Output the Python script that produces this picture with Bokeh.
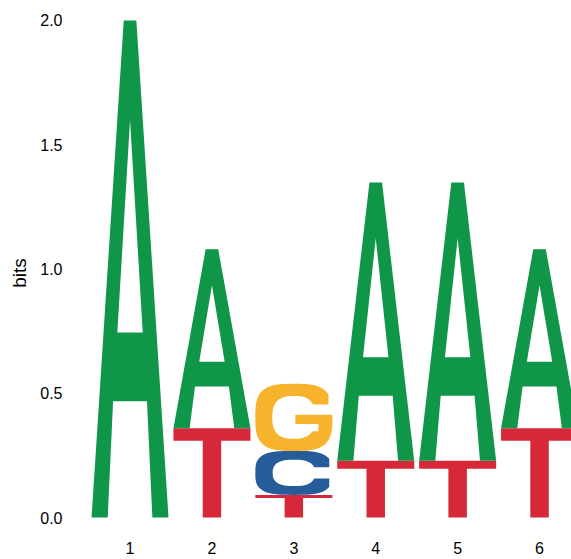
import numpy as np
from bokeh.plotting import figure
from bokeh.models import ColumnDataSource, FixedTicker, NumeralTickFormatter
from bokeh.embed import file_html
from bokeh.resources import INLINE

# ---------------- data (bits per letter at each position) ----------------
positions = [1, 2, 3, 4, 5, 6]
bits_A = [2.0, 0.72, 0.0, 1.12, 1.12, 0.72]
bits_C = [0.0, 0.0, 0.177, 0.0, 0.0, 0.0]
bits_G = [0.0, 0.0, 0.27, 0.0, 0.0, 0.0]
bits_T = [0.0, 0.359, 0.091, 0.228, 0.228, 0.359]
x_tick_labels = ["1", "2", "3", "4", "5", "6"]
y_ticks = [0.0, 0.5, 1.0, 1.5, 2.0]

letter_colors = {"A": "#109648", "C": "#255C99", "G": "#F7B32B", "T": "#D62839"}

# ---------------- letter outlines in a unit box ----------------
def se(t, cx, cy, rx, ry, n):
    c, s = np.cos(t), np.sin(t)
    return (cx + rx * np.sign(c) * np.abs(c) ** (2.0 / n),
            cy + ry * np.sign(s) * np.abs(s) ** (2.0 / n))

def t_for_x(x, cx, rx, n):
    return np.arccos(((x - cx) / rx) ** (n / 2.0))

def t_for_y(y, cy, ry, n):
    return np.arcsin(((y - cy) / ry) ** (n / 2.0))

def shape_A():
    outer = [(0, 0), (0.418, 1), (0.582, 1), (1, 0), (0.79, 0), (0.72, 0.234),
             (0.28, 0.234), (0.21, 0)]
    hole = [(0.335, 0.372), (0.665, 0.372), (0.5, 0.80)]
    return [outer, hole]

def shape_T():
    return [[(0, 1), (1, 1), (1, 0.86), (0.62, 0.86), (0.62, 0), (0.38, 0),
             (0.38, 0.86), (0, 0.86)]]

def shape_C():
    no, ni = 3.2, 2.6
    rxi, ryi = 0.275, 0.30
    tc = t_for_x(0.96, 0.5, 0.5, no)
    to = np.linspace(tc, 2 * np.pi - tc, 90)
    ox, oy = se(to, 0.5, 0.5, 0.5, 0.5, no)
    ti = t_for_y(0.63, 0.5, ryi, ni)
    tin = np.linspace(2 * np.pi - ti, ti, 90)
    ix, iy = se(tin, 0.5, 0.5, rxi, ryi, ni)
    pts = list(zip(ox, oy)) + [(0.96, 0.37)] + list(zip(ix, iy)) + [(0.96, 0.63)]
    return [pts]

def shape_G():
    no, ni = 3.2, 2.6
    rxi, ryi = 0.28, 0.32
    tc = t_for_x(0.95, 0.5, 0.5, no)
    to = np.linspace(tc, 2 * np.pi, 90)
    ox, oy = se(to, 0.5, 0.5, 0.5, 0.5, no)
    ti = t_for_y(0.69, 0.5, ryi, ni)
    tin = np.linspace(2 * np.pi - 0.6, ti, 90)
    ix, iy = se(tin, 0.5, 0.5, rxi, ryi, ni)
    bar = [(1.0, 0.54), (0.52, 0.54), (0.52, 0.40), (0.82, 0.40), (0.82, float(iy[0]))]
    pts = list(zip(ox, oy)) + bar + list(zip(ix, iy)) + [(0.95, 0.69)]
    return [pts]

shapes = {"A": shape_A(), "C": shape_C(), "G": shape_G(), "T": shape_T()}
series = {"A": bits_A, "C": bits_C, "G": bits_G, "T": bits_T}

letter_width = 0.94

xs, ys, colors = [], [], []
for i, pos in enumerate(positions):
    stack = [(series[k][i], k) for k in "ACGT" if series[k][i] > 0]
    stack.sort()
    base = 0.0
    for h, k in stack:
        rings_x, rings_y = [], []
        for ring in shapes[k]:
            u = np.array([p[0] for p in ring], dtype=float)
            v = np.array([p[1] for p in ring], dtype=float)
            rings_x.append(list(pos - letter_width / 2 + u * letter_width))
            rings_y.append(list(base + v * h))
        xs.append([rings_x])
        ys.append([rings_y])
        colors.append(letter_colors[k])
        base += h

src = ColumnDataSource(dict(xs=xs, ys=ys, color=colors))

p = figure(width=565, height=559, output_backend="svg", toolbar_location=None,
           x_range=(0.212, 6.3902), y_range=(-0.0724, 2.0402),
           min_border_left=0, min_border_right=0, min_border_top=10,
           min_border_bottom=24, margin=(0, 0, 0, 6))
p.multi_polygons(xs="xs", ys="ys", fill_color="color", line_color=None, source=src)

p.outline_line_color = None
p.xgrid.visible = False
p.ygrid.visible = False
p.background_fill_color = "white"

for ax in (p.xaxis[0], p.yaxis[0]):
    ax.axis_line_color = None
    ax.major_tick_line_color = None
    ax.minor_tick_line_color = None
    ax.major_tick_out = 0
    ax.major_tick_in = 0
    ax.major_label_text_font = "Liberation Sans"
    ax.major_label_text_font_size = "16px"
    ax.major_label_text_color = "black"
    ax.major_label_standoff = 3

p.xaxis.major_label_standoff = 6
p.xaxis.ticker = FixedTicker(ticks=positions)
p.xaxis.major_label_overrides = {pos: lab for pos, lab in zip(positions, x_tick_labels)}
p.yaxis.ticker = FixedTicker(ticks=y_ticks)
p.yaxis.formatter = NumeralTickFormatter(format="0.0")
p.yaxis.axis_label = "bits"
p.yaxis.axis_label_text_font = "Liberation Sans"
p.yaxis.axis_label_text_font_size = "19px"
p.yaxis.axis_label_text_font_style = "normal"
p.yaxis.axis_label_text_color = "black"
p.yaxis.axis_label_standoff = 7

open("out.html", "w").write(file_html(p, INLINE))
